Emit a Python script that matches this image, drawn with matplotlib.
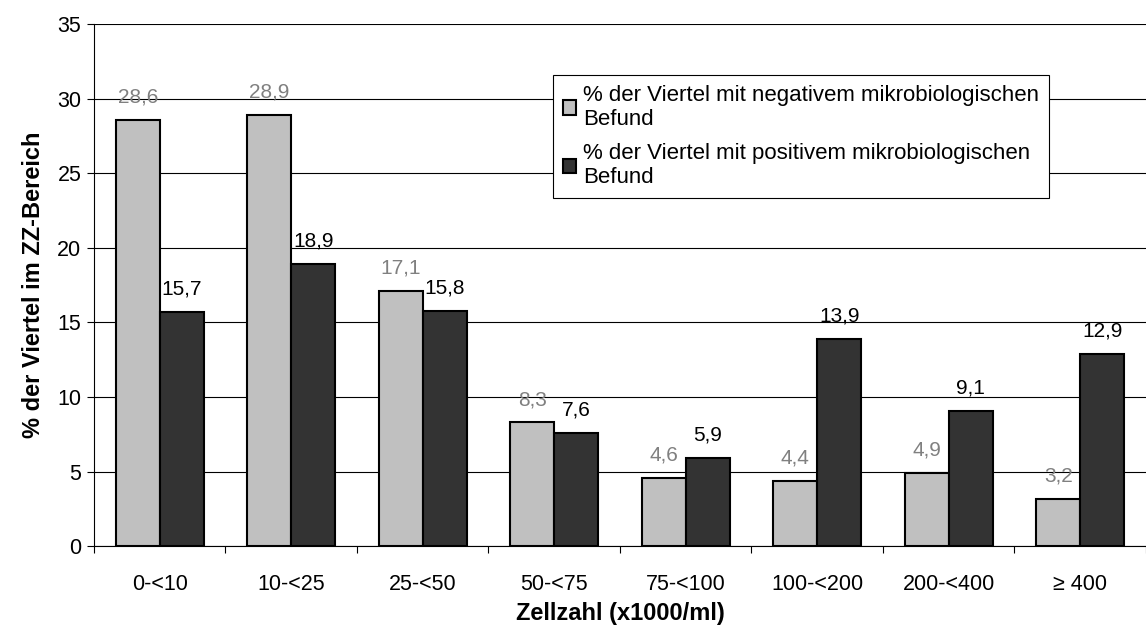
import numpy as np
import matplotlib
matplotlib.use('Agg')
import matplotlib.pyplot as plt

plt.rcParams['font.family'] = ['Liberation Sans', 'DejaVu Sans']

categories = ['0-<10', '10-<25', '25-<50', '50-<75', '75-<100', '100-<200', '200-<400', '\u2265 400']
negativ = [28.6, 28.9, 17.1, 8.3, 4.6, 4.4, 4.9, 3.2]
positiv = [15.7, 18.9, 15.8, 7.6, 5.9, 13.9, 9.1, 12.9]
labels = ['% der Viertel mit negativem mikrobiologischen\nBefund',
          '% der Viertel mit positivem mikrobiologischen\nBefund']

fig = plt.figure(figsize=(11.46, 6.33), dpi=100)
ax = fig.add_axes([0.082, 0.137, 0.918, 0.825])

x = np.arange(len(categories))
w = 0.335
ax.bar(x - w / 2, negativ, w, color='#c0c0c0', edgecolor='black', linewidth=1.5, label=labels[0], zorder=3)
ax.bar(x + w / 2, positiv, w, color='#333333', edgecolor='black', linewidth=1.5, label=labels[1], zorder=3)

# Datenbeschriftungen
for xi, v in zip(x, negativ):
    ax.text(xi - w / 2, v + 0.9, f'{v:.1f}'.replace('.', ','), ha='center', va='bottom',
            fontsize=15, color='#808080', zorder=4)
for xi, v in zip(x, positiv):
    ax.text(xi + w / 2, v + 0.9, f'{v:.1f}'.replace('.', ','), ha='center', va='bottom',
            fontsize=15, color='black', zorder=4)

ax.set_xlim(-0.5, len(categories) - 0.5)
ax.set_ylim(0, 35)
ax.set_yticks(np.arange(0, 36, 5))
ax.yaxis.grid(True, color='black', linewidth=0.8, zorder=0)
ax.set_axisbelow(True)

ax.set_xticks(x)
ax.set_xticklabels(categories, fontsize=15.5)
ax.tick_params(axis='x', which='major', length=0, pad=20)
ax.set_xticks(np.arange(-0.5, len(categories), 1), minor=True)
ax.tick_params(axis='x', which='minor', length=5, direction='out', width=0.8)
ax.tick_params(axis='y', labelsize=15.5, length=5, direction='out', width=0.8, pad=4)

for s in ['top', 'right']:
    ax.spines[s].set_visible(False)
ax.spines['left'].set_linewidth(0.8)
ax.spines['bottom'].set_linewidth(0.8)

ax.set_xlabel('Zellzahl (x1000/ml)', fontsize=17, fontweight='bold', labelpad=5)
ax.set_ylabel('% der Viertel im ZZ-Bereich', fontsize=17, fontweight='bold', labelpad=9)

leg = ax.legend(loc='upper left', bbox_to_anchor=(0.436, 0.903), fontsize=16, frameon=True,
                fancybox=False, edgecolor='black', framealpha=1, handlelength=0.6,
                handleheight=0.6, handletextpad=0.3, borderpad=0.45, labelspacing=0.58,
                borderaxespad=0)
leg.get_frame().set_linewidth(0.8)

fig.savefig('out.png', dpi=100)
